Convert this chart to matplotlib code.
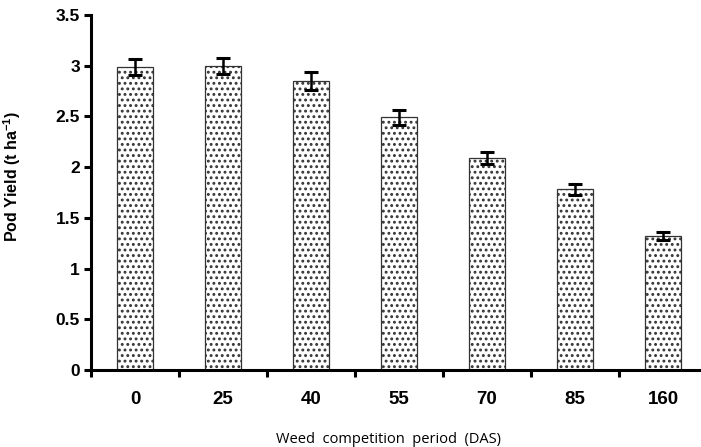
#!/usr/bin/env python3
"""Pod yield vs weed competition period, bar chart with error bars."""

import numpy as np
import matplotlib
matplotlib.use('Agg')
import matplotlib.pyplot as plt

plt.rcParams['font.family'] = ['Liberation Sans', 'DejaVu Sans']
plt.rcParams['mathtext.fontset'] = 'custom'
plt.rcParams['mathtext.bf'] = 'Liberation Sans:bold'
plt.rcParams['mathtext.rm'] = 'Liberation Sans'
plt.rcParams['hatch.linewidth'] = 1.3

# Data
periods = ['0', '25', '40', '55', '70', '85', '160']
pod_yield = [2.99, 3.00, 2.85, 2.49, 2.09, 1.78, 1.32]
yield_err = [0.08, 0.08, 0.09, 0.07, 0.06, 0.05, 0.04]
y_ticks = [0, 0.5, 1, 1.5, 2, 2.5, 3, 3.5]
y_tick_labels = ['0', '0.5', '1', '1.5', '2', '2.5', '3', '3.5']

fig = plt.figure(figsize=(7.01, 4.47), dpi=100)
ax = fig.add_axes([91 / 701, 77 / 447, 1 - 91 / 701, (370 - 15) / 447])

x = np.arange(len(periods))
ax.bar(x, pod_yield, width=0.42, color='white', edgecolor='#333333',
       linewidth=0.9, hatch='...', zorder=2)
ax.errorbar(x, pod_yield, yerr=yield_err, fmt='none', ecolor='black',
            elinewidth=1.8, capsize=4.8, capthick=2.2, zorder=3)

ax.set_xlim(-0.5, (701 - 91) / 88 - 0.5)
ax.set_ylim(0, 3.5)

for side in ['top', 'right']:
    ax.spines[side].set_visible(False)
for side in ['left', 'bottom']:
    ax.spines[side].set_linewidth(2.2)
    ax.spines[side].set_color('black')

ax.set_yticks(y_ticks)
ax.set_yticklabels(y_tick_labels, fontsize=12.5, fontweight='bold')
ax.tick_params(axis='y', direction='out', length=5, width=2.2, pad=3)

ax.set_xticks(x)
ax.set_xticklabels(periods, fontsize=13.5, fontweight='bold')
ax.tick_params(axis='x', which='major', length=0, pad=15)
ax.set_xticks(np.arange(-0.5, len(periods) - 1, 1.0), minor=True)
ax.tick_params(axis='x', which='minor', direction='out', length=5, width=2.2)

ax.set_ylabel(r'Pod Yield (t ha$^{\mathbf{-1}}$)', fontsize=11.5,
              fontweight='bold')
ax.yaxis.set_label_coords(-0.112, 0.545)
ax.set_xlabel('Weed  competition  period  (DAS)', fontsize=10.5,
              family=['Open Sans', 'DejaVu Sans'])
ax.xaxis.set_label_coords((389 - 91) / 610, -0.175)

plt.savefig('out.png', dpi=100)
